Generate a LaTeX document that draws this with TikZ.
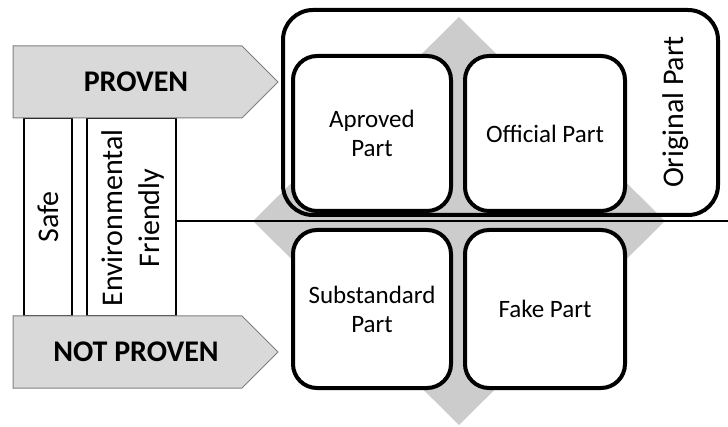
\documentclass[tikz,border=0pt]{standalone}
\usepackage{fontspec}
\setmainfont{Carlito}
\definecolor{arrowfill}{HTML}{D9D9D9}
\definecolor{arrowline}{HTML}{7F7F7F}
\definecolor{diamondfill}{HTML}{CCCCCC}
\tikzset{
  partbox/.style={draw=black, line width=4pt, rounded corners=24pt, fill=white,
    align=center, inner sep=0pt, font=\fontsize{25}{29}\selectfont},
  sidebox/.style={draw=black, line width=1.5pt, fill=white, inner sep=0pt},
  sidetext/.style={rotate=90, align=center, font=\fontsize{30}{37}\selectfont},
  proofarrow/.style={fill=arrowfill, draw=arrowline, line width=1pt},
  prooftext/.style={font=\bfseries\fontsize{30}{36}\selectfont},
  divider/.style={draw=black, line width=1.5pt}
}
\begin{document}
\begin{tikzpicture}[x=1pt,y=-1pt]
\useasboundingbox (0,0) rectangle (728,427);
% grey diamond
\fill[diamondfill] (459,17) -- (665,221) -- (459,425) -- (253,221) -- cycle;
% side boxes
\node[sidebox, minimum width=48pt, minimum height=198pt] (safe) at (48,217) {};
\node[sidebox, minimum width=89pt, minimum height=198pt] (env) at (131.5,217) {};
\node[sidetext] (safet) at (safe.center) {Safe};
\node[sidetext] (envt) at (133,218) {Environmental\\Friendly};
% arrows
\coordinate (pa1) at (13,46); \coordinate (pa2) at (242,46); \coordinate (pa3) at (278,82);
\coordinate (pa4) at (242,118); \coordinate (pa5) at (13,118);
\draw[proofarrow] (pa1) -- (pa2) -- (pa3) -- (pa4) -- (pa5) -- cycle;
\coordinate (na1) at (13,316); \coordinate (na2) at (242,316); \coordinate (na3) at (278,352);
\coordinate (na4) at (242,388); \coordinate (na5) at (13,388);
\draw[proofarrow] (na1) -- (na2) -- (na3) -- (na4) -- (na5) -- cycle;
\node[prooftext] (proven) at (136,82) {PROVEN};
\node[prooftext] (notproven) at (136,352) {NOT PROVEN};
% divider
\coordinate (divend) at (728,221);
\draw[divider] (env.east |- divend) -- (divend);
% original part outer box
\node[draw=black, line width=4pt, rounded corners=30pt, minimum width=435pt, minimum height=205pt, inner sep=0pt] (orig) at (500.5,112.5) {};
\node[sidetext] (origt) at (676,112) {Original Part};
% inner boxes
\node[partbox, minimum width=158pt, minimum height=155pt] (aproved) at (372,133.5) {Aproved\\Part};
\node[partbox, minimum width=160pt, minimum height=155pt] (official) at (545,133.5) {Official Part};
\node[partbox, minimum width=158pt, minimum height=158pt] (substd) at (372,309) {Substandard\\Part};
\node[partbox, minimum width=160pt, minimum height=158pt] (fake) at (545,309) {Fake Part};
\end{tikzpicture}
\end{document}
